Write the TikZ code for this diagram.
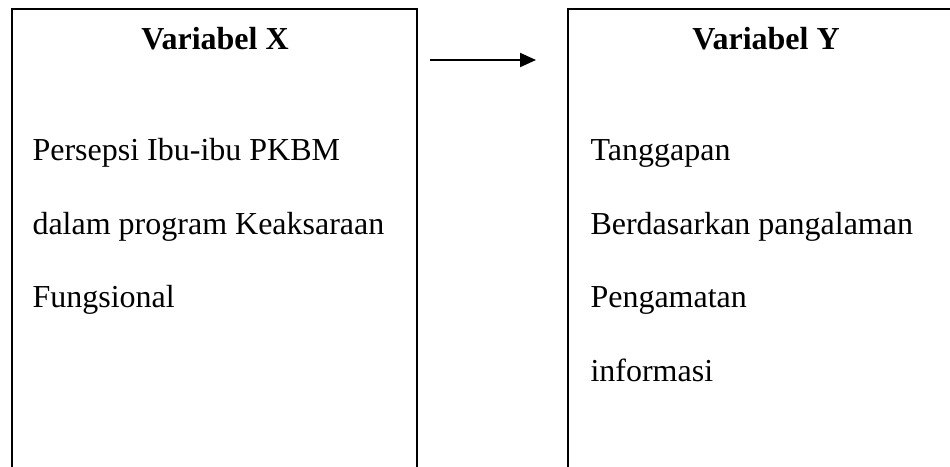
\documentclass[tikz,border=0pt]{standalone}
\usepackage{fontspec}
\setmainfont{Liberation Serif}
\usepackage{tikz}
\usetikzlibrary{arrows.meta,positioning}

\tikzset{
  varbox/.style={draw, line width=0.75pt, rectangle, inner sep=0pt, minimum height=191.6pt},
  vartitle/.style={anchor=base, font=\fontsize{12}{14}\selectfont\bfseries, inner sep=0pt},
  varline/.style={anchor=base west, font=\fontsize{12}{14}\selectfont, inner sep=0pt},
  panah/.style={-{Triangle[length=6pt,width=5.25pt]}, line width=0.75pt}
}

\begin{document}
\begin{tikzpicture}[x=0.375pt,y=-0.375pt]
\useasboundingbox (0,0) rectangle (950,466);
\clip (0,0) rectangle (950,466);
% kotak variabel
\node [varbox, minimum width=151.9pt] (boxX) at (214.5,264.5) {};
\node [varbox, minimum width=146.25pt] (boxY) at (763,264.5) {};
\node [vartitle] (titleX) at (215,49) {Variabel X};
\node [vartitle] (titleY) at (766,49) {Variabel Y};
% isi variabel X
\node [varline] (x1) at (32,160) {Persepsi Ibu-ibu PKBM};
\node [varline] (x2) at (32,234) {dalam program Keaksaraan};
\node [varline] (x3) at (32,307) {Fungsional};
% isi variabel Y
\node [varline] (y1) at (590,160) {Tanggapan};
\node [varline] (y2) at (590,234) {Berdasarkan pangalaman};
\node [varline] (y3) at (590,307) {Pengamatan};
\node [varline] (y4) at (590,381) {informasi};
% panah X ke Y
\coordinate (arrS) at (430,60);
\coordinate (arrE) at (536,60);
\draw [panah] (arrS) -- (arrE);
\end{tikzpicture}
\end{document}
